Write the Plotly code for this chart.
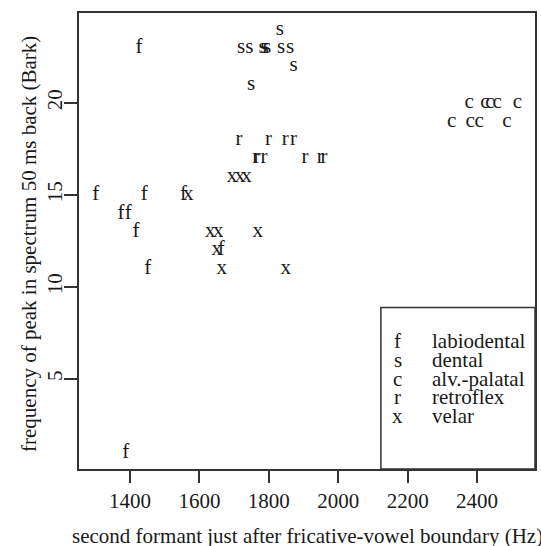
import plotly.graph_objects as go

# ---- data ----
labio_x = [1426, 1301, 1441, 1554, 1374, 1395, 1417, 1663, 1451, 1388]
labio_y = [23, 15, 15, 15, 14, 14, 13, 12, 11, 1]
dental_x = [1832, 1720, 1744, 1782, 1788, 1795, 1835, 1861, 1871, 1749]
dental_y = [24, 23, 23, 23, 23, 23, 23, 23, 22, 21]
alvpal_x = [2377, 2423, 2437, 2458, 2516, 2327, 2380, 2406, 2486]
alvpal_y = [20, 20, 20, 20, 20, 19, 19, 19, 19]
retro_x = [1714, 1799, 1847, 1871, 1762, 1766, 1786, 1904, 1948, 1959]
retro_y = [18, 18, 18, 18, 17, 17, 17, 17, 17, 17]
velar_x = [1694, 1717, 1736, 1568, 1631, 1654, 1768, 1650, 1664, 1849]
velar_y = [16, 16, 16, 15, 13, 13, 13, 12, 11, 11]

symbols = ["f", "s", "c", "r", "x"]
names = ["labiodental", "dental", "alv.-palatal", "retroflex", "velar"]
series = [(labio_x, labio_y), (dental_x, dental_y), (alvpal_x, alvpal_y),
          (retro_x, retro_y), (velar_x, velar_y)]

x_ticks = [1400, 1600, 1800, 2000, 2200, 2400]
y_ticks = [5, 10, 15, 20]

FONT = "Liberation Serif"
INK = "#1a1a1a"
FS = 21

fig = go.Figure()
for sym, name, (xs, ys) in zip(symbols, names, series):
    fig.add_trace(go.Scatter(
        x=xs, y=ys, mode="text", text=[sym] * len(xs), name=name,
        textposition="middle center",
        textfont=dict(family=FONT, size=FS, color=INK),
        showlegend=False, hoverinfo="x+y+name"))

# legend box (manual, R style)
lx0, lx1, ly0, ly1 = 0.662, 1.0, 0.0, 0.354
fig.add_shape(type="rect", xref="paper", yref="paper", x0=lx0, x1=lx1, y0=ly0, y1=ly1,
              line=dict(color="#333", width=1.5), fillcolor="white")
row_top = 0.280
row_step = 18.6 / 456
for i, (sym, name) in enumerate(zip(symbols, names)):
    yy = row_top - i * row_step
    fig.add_annotation(xref="paper", yref="paper", x=(397.7 - 79) / 456, y=yy,
                       text=sym, showarrow=False, xanchor="center", yanchor="middle",
                       font=dict(family=FONT, size=FS, color=INK))
    fig.add_annotation(xref="paper", yref="paper", x=(430 - 79) / 456, y=yy,
                       text=name, showarrow=False, xanchor="left", yanchor="middle",
                       font=dict(family=FONT, size=FS, color=INK))

# axis titles as annotations
fig.add_annotation(xref="paper", yref="paper", x=(29 - 79) / 456, y=(469 - 244) / 456,
                   text="frequency of peak in spectrum 50 ms back (Bark)", textangle=-90,
                   showarrow=False, xanchor="center", yanchor="middle",
                   font=dict(family=FONT, size=FS, color=INK))
fig.add_annotation(xref="paper", yref="paper", x=0.5, y=(469 - 536) / 456,
                   text="second formant just after fricative-vowel boundary (Hz)",
                   showarrow=False, xanchor="center", yanchor="middle",
                   font=dict(family=FONT, size=FS, color=INK))

fig.update_layout(
    width=541, height=546,
    margin=dict(l=79, r=6, t=13, b=77),
    paper_bgcolor="white", plot_bgcolor="white",
    font=dict(family=FONT, size=FS, color=INK),
    xaxis=dict(
        range=[1253, 2567], tickvals=x_ticks, ticktext=[str(v) for v in x_ticks],
        showgrid=False, zeroline=False, showline=True, mirror=True,
        linecolor="#333", linewidth=1.5, automargin=False,
        ticks="outside", ticklen=12, tickwidth=1.5, tickcolor="#333",
        tickfont=dict(family=FONT, size=FS, color=INK),
    ),
    yaxis=dict(
        range=[0.11, 24.89], tickvals=y_ticks, ticktext=[str(v) for v in y_ticks],
        showgrid=False, zeroline=False, showline=True, mirror=True,
        linecolor="#333", linewidth=1.5, automargin=False,
        ticks="outside", ticklen=13, tickwidth=1.5, tickcolor="#333",
        tickangle=-90, ticklabelstandoff=-6,
        tickfont=dict(family=FONT, size=FS, color=INK),
    ),
)

fig.write_html("out.html")
